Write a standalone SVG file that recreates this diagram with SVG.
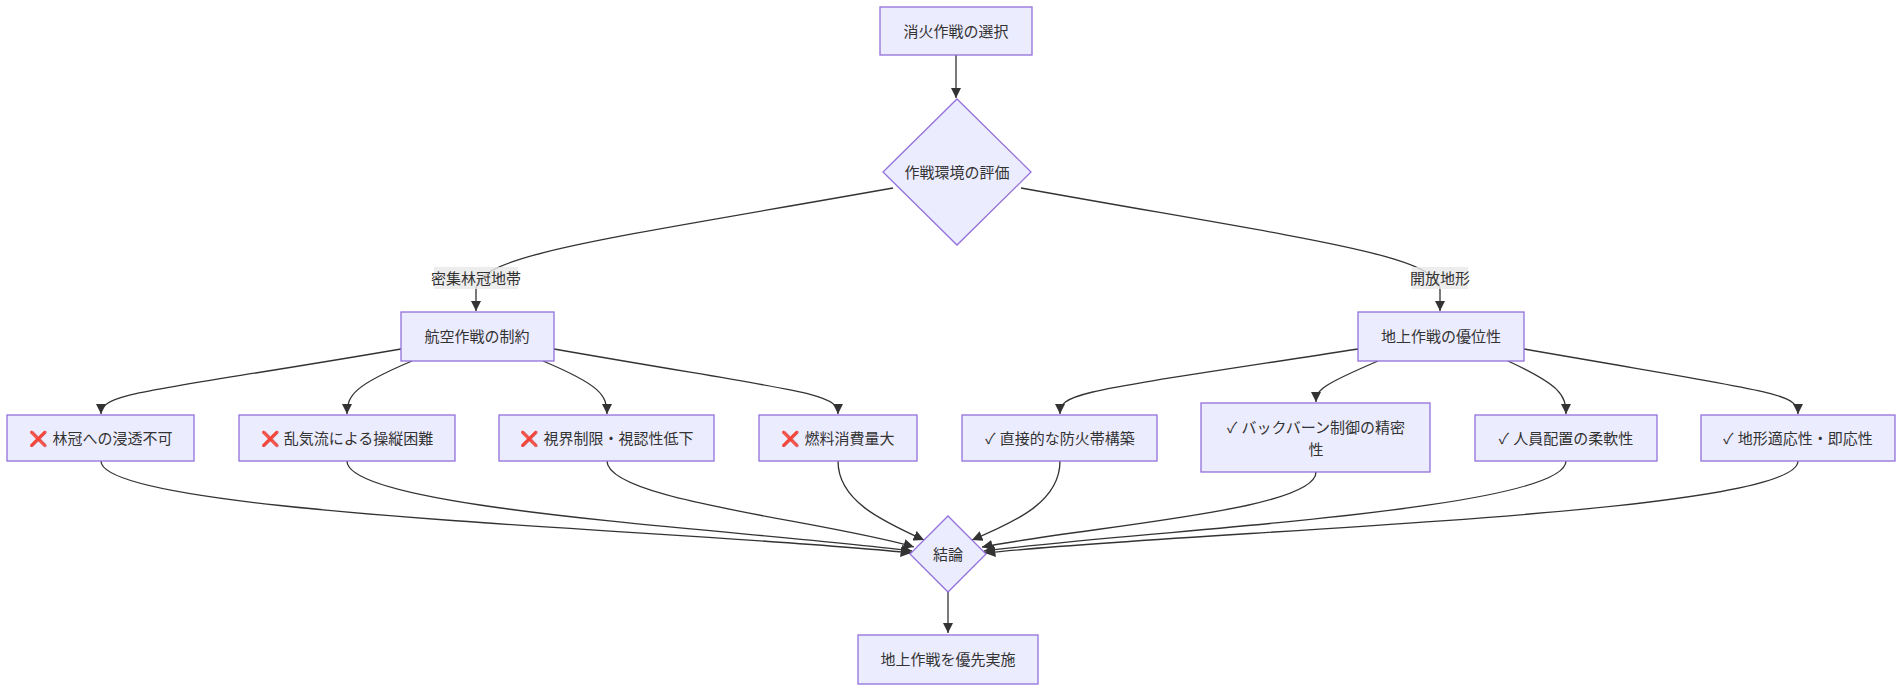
<svg xmlns="http://www.w3.org/2000/svg" width="1904" height="692" viewBox="0 0 1904 692">
<style>
.n{fill:#ECECFF;stroke:#9370DB;stroke-width:1.3}
.t{font-family:"Liberation Sans","Noto Sans CJK JP",sans-serif;font-size:15px;fill:#333;text-anchor:middle;dominant-baseline:central}
.e{fill:none;stroke:#333;stroke-width:1.3;marker-end:url(#a)}
.lb{fill:#e8e8e8;opacity:0.8}
.x{fill:#e0312e}
</style>
<defs><marker id="a" viewBox="0 0 10 10" refX="10" refY="5" markerWidth="8" markerHeight="8" orient="auto"><path d="M0,0L10,5L0,10z" fill="#333"/></marker></defs>
<rect width="1904" height="692" fill="#fff"/>
<g id="edges">
<path class="e" d="M956,55L956,98"/>
<path class="e" d="M893,188C600,240 476,255 476,290L476,311"/>
<path class="e" d="M1021,188C1310,240 1440,255 1440,290L1440,311"/>
<path class="e" d="M401,349C150,392 101,392 101,414"/>
<path class="e" d="M412,361C355,385 347,395 347,414"/>
<path class="e" d="M543,361C600,385 607,395 607,414"/>
<path class="e" d="M554,349C800,392 838,392 838,414"/>
<path class="e" d="M1358,349C1080,392 1060,392 1060,414"/>
<path class="e" d="M1378,361C1322,385 1316,390 1316,402"/>
<path class="e" d="M1508,361C1560,385 1566,395 1566,414"/>
<path class="e" d="M1524,349C1770,392 1798,392 1798,414"/>
<path class="e" d="M101,461C101,515 700,530 911,553"/>
<path class="e" d="M347,461C347,510 750,530 912,551"/>
<path class="e" d="M607,461C607,500 820,520 914,547"/>
<path class="e" d="M838,461C838,500 880,520 924,540"/>
<path class="e" d="M1060,461C1060,500 1020,520 972,540"/>
<path class="e" d="M1316,472C1316,510 1100,525 982,547"/>
<path class="e" d="M1566,461C1566,510 1150,530 984,551"/>
<path class="e" d="M1798,461C1798,515 1200,530 985,553"/>
<path class="e" d="M948,592L948,633"/>
<rect class="lb" x="434" y="267" width="84" height="22"/>
<text class="t" x="476" y="278">密集林冠地帯</text>
<rect class="lb" x="1412" y="267" width="56" height="22"/>
<text class="t" x="1440" y="278">開放地形</text>
</g>
<g id="n1"><rect class="n" x="880" y="7" width="152" height="48"/><text class="t" x="956" y="31">消火作戦の選択</text></g>
<g id="n2"><path class="n" d="M957,99L1031,172L957,245L883,172z"/><text class="t" x="957" y="172">作戦環境の評価</text></g>
<g id="n3"><rect class="n" x="401" y="312" width="153" height="49"/><text class="t" x="477" y="336">航空作戦の制約</text></g>
<g id="n4"><rect class="n" x="1358" y="312" width="166" height="49"/><text class="t" x="1441" y="336">地上作戦の優位性</text></g>
<g id="c1"><rect class="n" x="7" y="415" width="187" height="46"/><text class="t" x="101" y="438"><tspan class="x">❌</tspan> 林冠への浸透不可</text></g>
<g id="c2"><rect class="n" x="239" y="415" width="216" height="46"/><text class="t" x="347" y="438"><tspan class="x">❌</tspan> 乱気流による操縦困難</text></g>
<g id="c3"><rect class="n" x="499" y="415" width="215" height="46"/><text class="t" x="607" y="438"><tspan class="x">❌</tspan> 視界制限・視認性低下</text></g>
<g id="c4"><rect class="n" x="759" y="415" width="158" height="46"/><text class="t" x="838" y="438"><tspan class="x">❌</tspan> 燃料消費量大</text></g>
<g id="c5"><rect class="n" x="962" y="415" width="195" height="46"/><text class="t" x="1060" y="438">✓ 直接的な防火帯構築</text></g>
<g id="c6"><rect class="n" x="1201" y="403" width="229" height="69"/><text class="t" x="1316" y="427">✓ バックバーン制御の精密</text><text class="t" x="1316" y="449">性</text></g>
<g id="c7"><rect class="n" x="1475" y="415" width="182" height="46"/><text class="t" x="1566" y="438">✓ 人員配置の柔軟性</text></g>
<g id="c8"><rect class="n" x="1701" y="415" width="194" height="46"/><text class="t" x="1798" y="438">✓ 地形適応性・即応性</text></g>
<g id="n5"><path class="n" d="M948,516L986,554L948,592L910,554z"/><text class="t" x="948" y="554">結論</text></g>
<g id="n6"><rect class="n" x="858" y="635" width="180" height="49"/><text class="t" x="948" y="659">地上作戦を優先実施</text></g>
</svg>
